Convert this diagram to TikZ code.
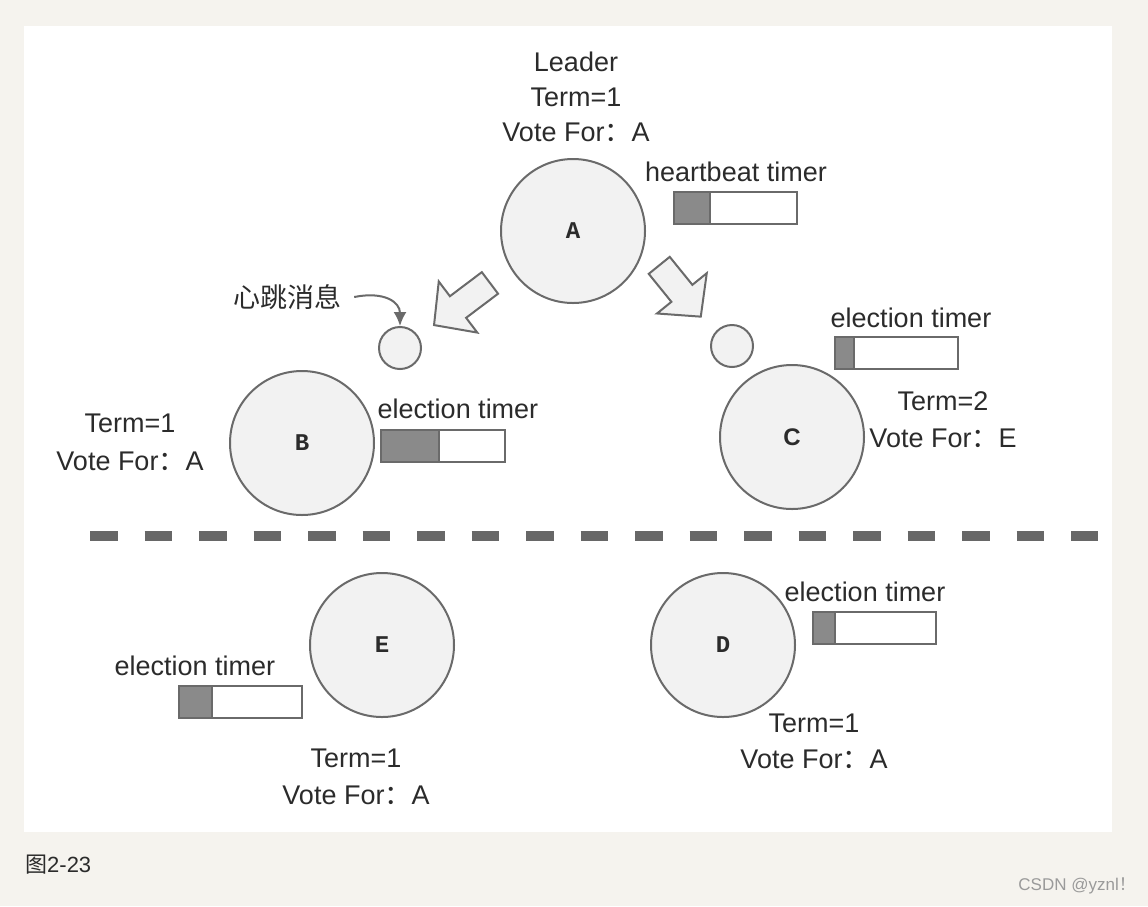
\documentclass[tikz,border=0pt]{standalone}
\usepackage{fontspec}
\setmainfont{Liberation Sans}
\newfontfamily\cjk{Noto Sans CJK SC}
\newfontfamily\monolbl{Liberation Mono}
\usepackage{tikz}
\usetikzlibrary{positioning, arrows.meta}
\definecolor{pageBg}{HTML}{F5F3EE}
\definecolor{lineGray}{HTML}{6A6A6A}
\definecolor{nodeFill}{HTML}{F2F2F2}
\definecolor{timerFill}{HTML}{8A8A8A}
\definecolor{textDark}{HTML}{2B2B2B}
\definecolor{dashGray}{HTML}{676767}
\definecolor{noteGray}{HTML}{9A9A9A}

\begin{document}
\begin{tikzpicture}[
    x=1pt, y=-1pt,
    server/.style={
        circle, draw=lineGray, fill=nodeFill, line width=2pt,
        minimum size=144pt, inner sep=0pt,
        font=\monolbl\bfseries\fontsize{24}{24}\selectfont,
        text=textDark,
    },
    msgdot/.style={
        circle, draw=lineGray, fill=nodeFill, line width=2pt,
        minimum size=42pt, inner sep=0pt,
    },
    lbl/.style={
        font=\fontsize{27}{37}\selectfont, text=textDark,
        inner sep=0pt, align=center,
    },
    tfull/.style={
        draw=lineGray, fill=timerFill, line width=1.8pt,
        minimum height=32pt, inner sep=0pt, outer sep=0pt,
    },
    tempty/.style={
        draw=lineGray, fill=white, line width=1.8pt,
        minimum height=32pt, inner sep=0pt, outer sep=0pt,
    },
    blockarrow/.style={
        draw=lineGray, fill=nodeFill, line width=2pt, line join=miter,
    },
    beat/.style={
        draw=lineGray, line width=2pt,
        -{Latex[length=14pt, width=13pt]},
    },
]
\useasboundingbox (0,0) rectangle (1148,906);

%--- Page and panel ---
\fill[pageBg] (0,0) rectangle (1148,906);
\fill[white] (24,26) rectangle (1112,832);

%--- Leader A ---
\node[server] (A) at (573,231) {A};
\node[lbl, font=\fontsize{27}{35}\selectfont] (infoA) at (576,97)
    {Leader\\Term=1\\Vote For{\cjk ：}A};
\node[lbl] (hbLbl) at (736,172) {heartbeat timer};
\node[tfull, minimum width=36pt, anchor=north west] (tA1) at (674,192) {};
\node[tempty, minimum width=87pt, right=0pt of tA1] (tA2) {};

%--- Follower B ---
\node[server] (B) at (302,443) {B};
\node[lbl, font=\fontsize{27}{38}\selectfont] (infoB) at (130,442)
    {Term=1\\Vote For{\cjk ：}A};
\node[lbl] (etB) at (458,409) {election timer};
\node[tfull, minimum width=58pt, anchor=north west] (tB1) at (381,430) {};
\node[tempty, minimum width=66pt, right=0pt of tB1] (tB2) {};

%--- Candidate C ---
\node[server, font=\bfseries\fontsize{24}{24}\selectfont] (C) at (792,437) {C};
\node[lbl] (infoC) at (943,420) {Term=2\\Vote For{\cjk ：}E};
\node[lbl] (etC) at (911,318) {election timer};
\node[tfull, minimum width=19pt, anchor=north west] (tC1) at (835,337) {};
\node[tempty, minimum width=104pt, right=0pt of tC1] (tC2) {};

%--- Partition line ---
\draw[dashGray, line width=10.5pt, dash pattern=on 27.5pt off 27pt] (90,536) -- (1098,536);

%--- Follower E ---
\node[server] (E) at (382,645) {E};
\node[lbl] (infoE) at (356,777) {Term=1\\Vote For{\cjk ：}A};
\node[lbl] (etE) at (195,666) {election timer};
\node[tfull, minimum width=33pt, anchor=north west] (tE1) at (179,686) {};
\node[tempty, minimum width=90pt, right=0pt of tE1] (tE2) {};

%--- Follower D ---
\node[server] (D) at (723,645) {D};
\node[lbl, font=\fontsize{27}{36}\selectfont] (infoD) at (814,741)
    {Term=1\\Vote For{\cjk ：}A};
\node[lbl] (etD) at (865,592) {election timer};
\node[tfull, minimum width=22pt, anchor=north west] (tD1) at (813,612) {};
\node[tempty, minimum width=101pt, right=0pt of tD1] (tD2) {};

%--- Heartbeat messages ---
\node[msgdot] (mB) at (400,348) {};
\node[msgdot] (mC) at (732,346) {};
\node[lbl, font=\cjk\fontsize{27}{27}\selectfont] (msg) at (287,297) {心跳消息};
\draw[beat] ([xshift=13pt]msg.east) .. controls +(30,-6) and +(0,-24) .. (mB.north);

% block arrows out of A
\begin{scope}[shift={(462,304)}, rotate=217]
  \filldraw[blockarrow] (-35,-13.5) -- (5,-13.5) -- (5,-32) -- (35,0)
      -- (5,32) -- (5,13.5) -- (-35,13.5) -- cycle;
\end{scope}
\begin{scope}[shift={(680,291)}, rotate=-51]
  \filldraw[blockarrow] (-33,-13.5) -- (3,-13.5) -- (3,-32) -- (33,0)
      -- (3,32) -- (3,13.5) -- (-33,13.5) -- cycle;
\end{scope}

%--- Caption ---
\node[anchor=west, inner sep=0pt, text=textDark, font=\fontsize{22}{22}\selectfont]
    (fig) at (25,865) {{\cjk 图}2-23};
\node[anchor=east, inner sep=0pt, text=noteGray, font=\fontsize{17}{17}\selectfont]
    (mark) at (1136,886) {CSDN @yznl{\cjk ！}};

\end{tikzpicture}
\end{document}
